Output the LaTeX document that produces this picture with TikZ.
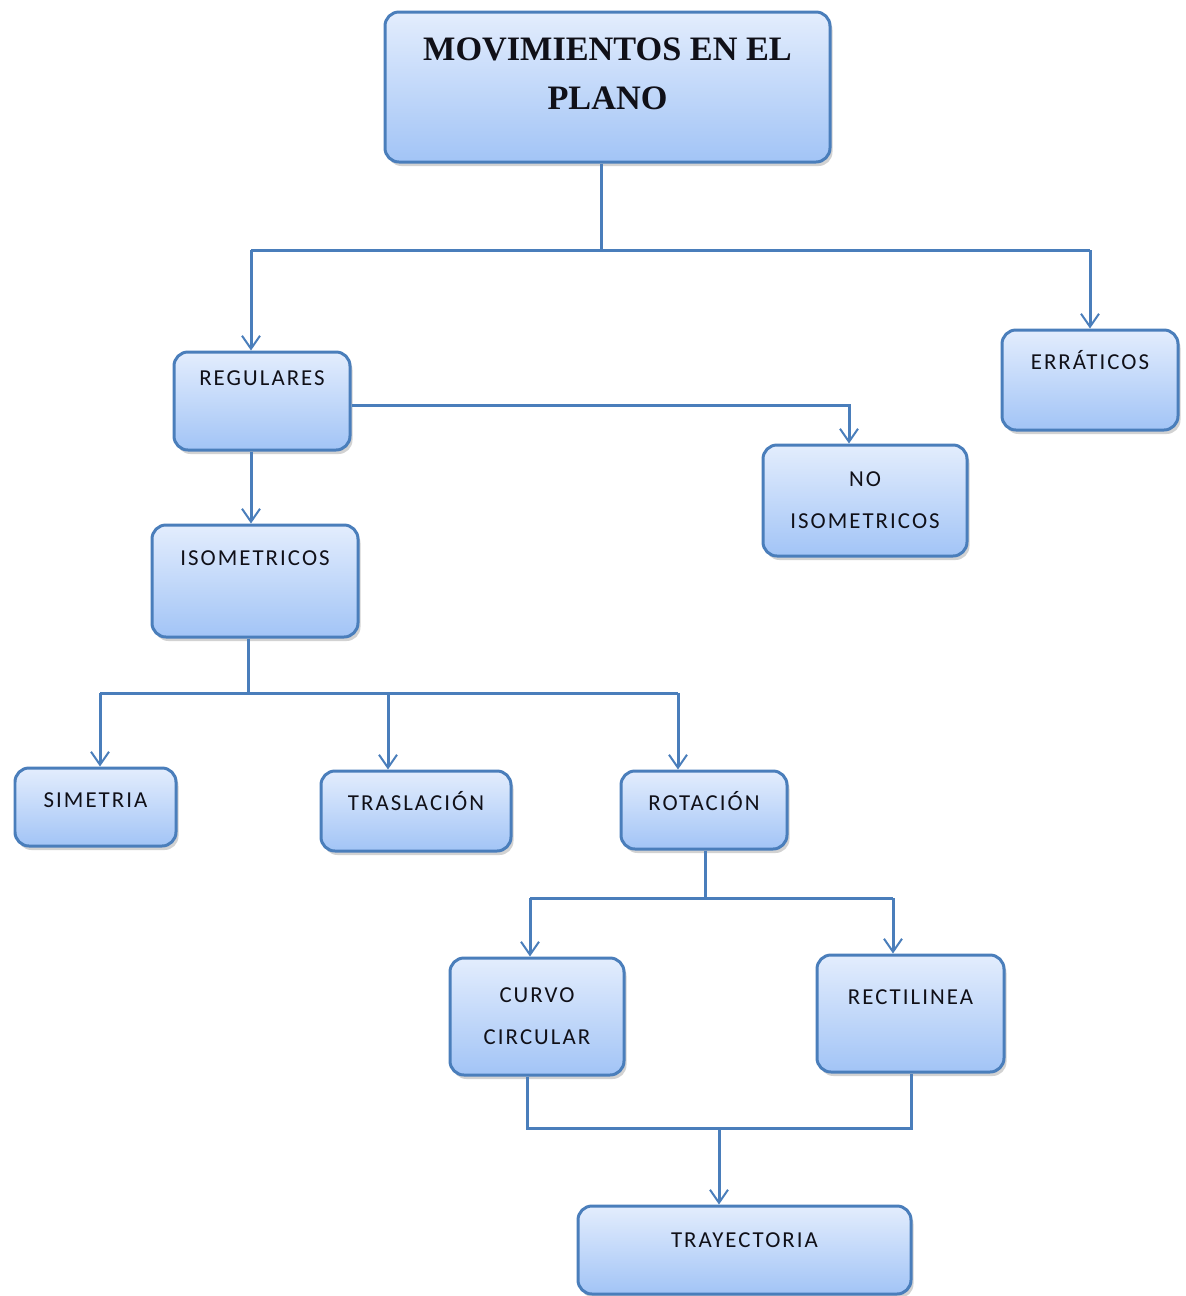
\documentclass[tikz,border=0pt]{standalone}
\usepackage{fontspec}
\setmainfont{Carlito}
\newfontfamily\boxfont[LetterSpace=9]{Carlito}
\newfontfamily\titlefont{Liberation Serif}
\usetikzlibrary{positioning, calc, arrows.meta, shadows}

\definecolor{boxline}{HTML}{4A7EBB}
\definecolor{boxtop}{HTML}{E3EDFD}
\definecolor{boxbot}{HTML}{A2C4F6}
\definecolor{ink}{HTML}{101018}

% raise a label inside its box without changing the box size
\newcommand{\lift}[2]{\raisebox{#1}[\height][\depth]{#2}}

\begin{document}
\begin{tikzpicture}[
  x=0.02cm, y=-0.02cm,
  box/.style   = {draw=boxline, line width=0.06cm, rounded corners=0.28cm,
                  top color=boxtop, bottom color=boxbot, align=center,
                  text=ink, inner sep=0pt,
                  font=\boxfont\fontsize{13}{24}\selectfont,
                  drop shadow={shadow xshift=0.05cm, shadow yshift=-0.08cm,
                               opacity=0.25, fill=black!70}},
  sz/.style 2 args = {minimum width=#1*0.02cm, minimum height=#2*0.02cm},
  link/.style  = {draw=boxline, line width=0.06cm},
  arr/.style   = {link, -{Straight Barb[length=0.26cm, width=0.36cm, line width=0.04cm]}},
]
\useasboundingbox (0,0) rectangle (1186,1296);

% ---- boxes ------------------------------------------------------------------
\node[box, sz={445}{150}, font=\titlefont\bfseries\fontsize{19.5}{28}\selectfont]
  (title) at (607.5,87)
  {\lift{0.24cm}{\begin{tabular}{@{}c@{}}MOVIMIENTOS EN EL\\PLANO\end{tabular}}};
\node[box, sz={176}{98}]  (reg)   at (262,401)    {\lift{0.46cm}{REGULARES}};
\node[box, sz={176}{100}] (err)   at (1090,380)   {\lift{0.40cm}{ERRÁTICOS}};
\node[box, sz={204}{111}] (noiso) at (865,500.5)  {NO\\ISOMETRICOS};
\node[box, sz={206}{112}] (iso)   at (255,581)    {\lift{0.46cm}{ISOMETRICOS}};
\node[box, sz={161}{78}]  (sim)   at (95.5,807)   {\lift{0.14cm}{SIMETRIA}};
\node[box, sz={190}{80}]  (tras)  at (416,811)    {\lift{0.20cm}{TRASLACIÓN}};
\node[box, sz={166}{78}]  (rot)   at (704,810)    {\lift{0.18cm}{ROTACIÓN}};
\node[box, sz={174}{117}] (curv)  at (537,1016.5) {CURVO\\CIRCULAR};
\node[box, sz={187}{117}] (rect)  at (910.5,1013.5) {\lift{0.32cm}{RECTILINEA}};
\node[box, sz={333}{88}]  (tray)  at (744.5,1250) {\lift{0.20cm}{TRAYECTORIA}};

% ---- title -> regulares / erraticos -----------------------------------------
\coordinate (b1)  at (601,250);
\coordinate (b1l) at (251,250);
\coordinate (b1r) at (1090,250);
\draw[link] (title.south -| b1) -- (b1);
\draw[link] (b1l) -- (b1r);
\draw[arr] (b1l) -- (reg.north -| b1l);
\draw[arr] (b1r) -- (err.north -| b1r);

% regulares -> no isometricos, regulares -> isometricos
\coordinate (k1) at (849,405);
\draw[arr] (reg.east |- k1) -- (k1) -- (noiso.north -| k1);
\draw[arr] (reg.south -| b1l) -- (iso.north -| b1l);

% ---- isometricos -> three kinds ---------------------------------------------
\coordinate (b2)  at (248,693);
\coordinate (b2l) at (100,693);
\coordinate (b2m) at (388,693);
\coordinate (b2r) at (678,693);
\draw[link] (iso.south -| b2) -- (b2);
\draw[link] (b2l) -- (b2r);
\draw[arr] (b2l) -- (sim.north -| b2l);
\draw[arr] (b2m) -- (tras.north -| b2m);
\draw[arr] (b2r) -- (rot.north -| b2r);

% ---- rotacion -> curvo / rectilinea -----------------------------------------
\coordinate (b3)  at (705,898);
\coordinate (b3l) at (530,898);
\coordinate (b3r) at (893,898);
\draw[link] (rot.south -| b3) -- (b3);
\draw[link] (b3l) -- (b3r);
\draw[arr] (b3l) -- (curv.north -| b3l);
\draw[arr] (b3r) -- (rect.north -| b3r);

% ---- both -> trayectoria ----------------------------------------------------
\coordinate (m1)  at (719,1128);
\coordinate (m1l) at (527,1128);
\coordinate (m1r) at (911,1128);
\draw[link] (curv.south -| m1l) -- (m1l) -- (m1r) -- (rect.south -| m1r);
\draw[arr] (m1) -- (tray.north -| m1);

\end{tikzpicture}
\end{document}
